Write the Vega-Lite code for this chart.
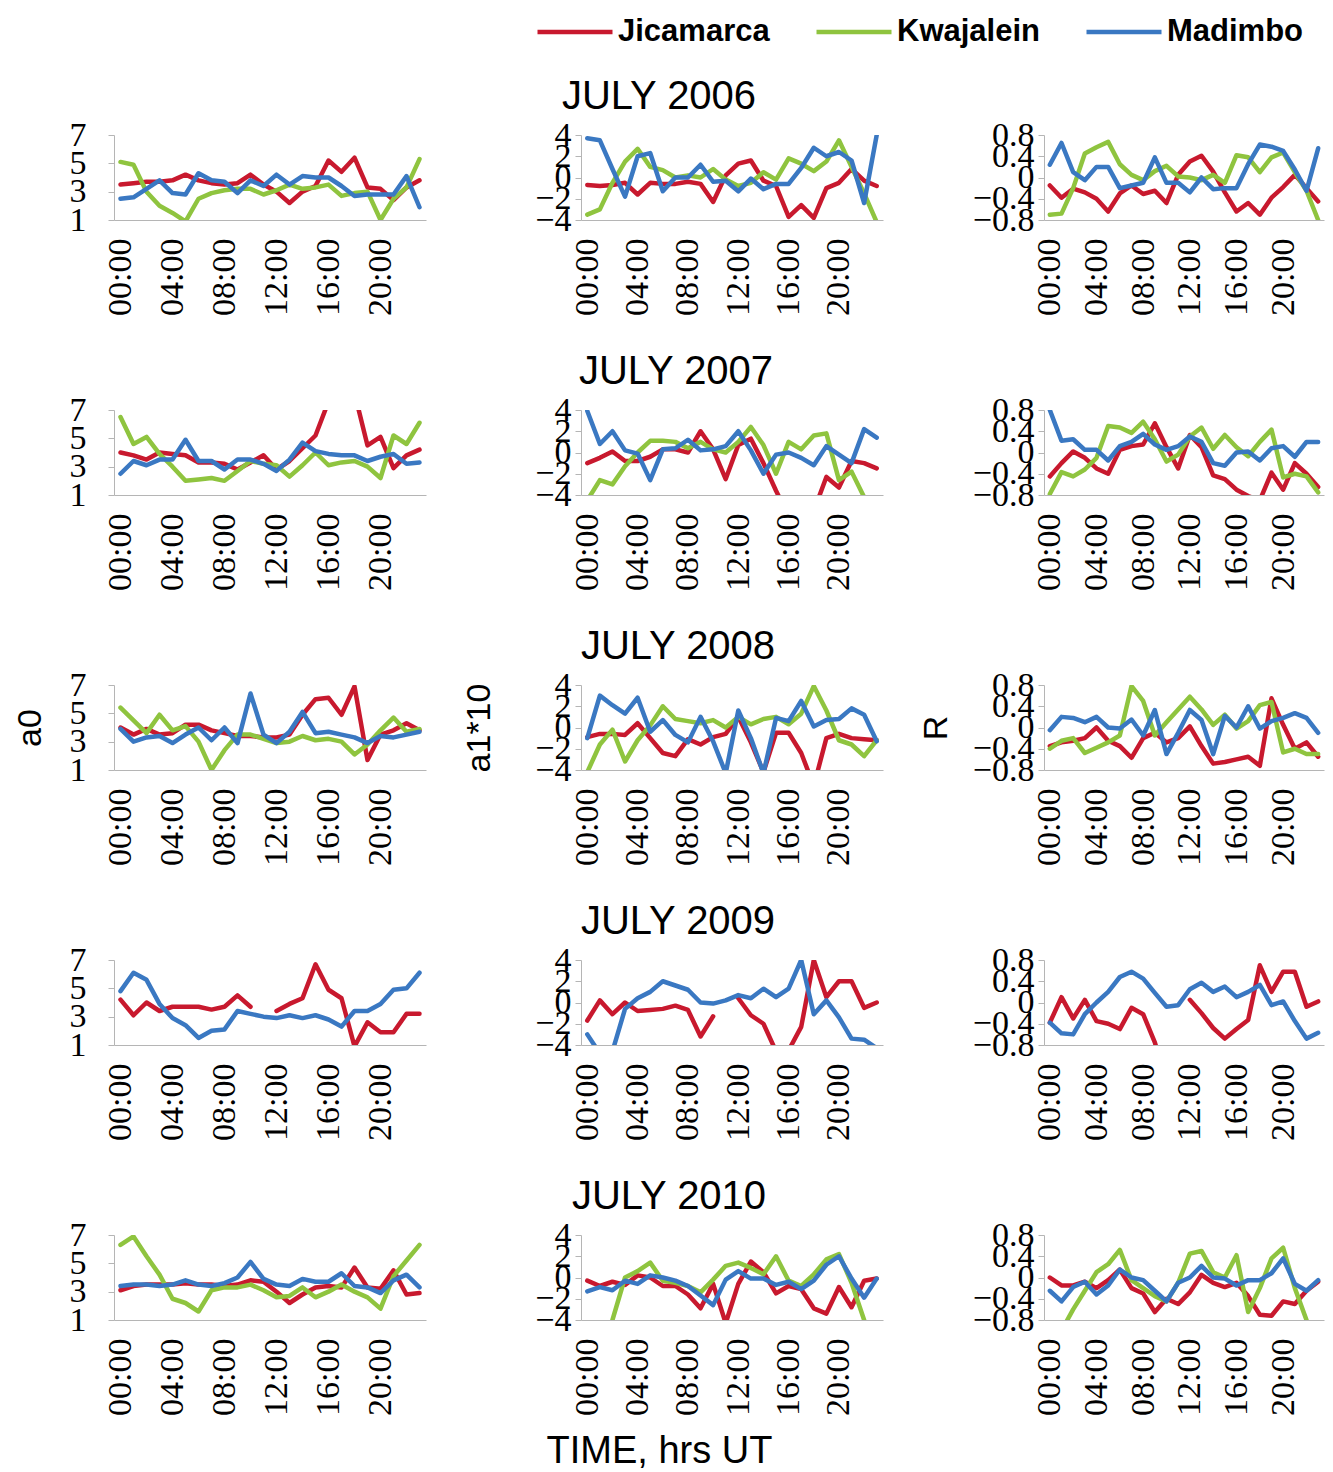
{
"$schema":"https://vega.github.io/schema/vega-lite/v6.json",
"padding":{"left":13,"top":-8,"right":10,"bottom":4},
"background":"white",
"title":{"text":"TIME, hrs UT","orient":"bottom","anchor":"middle","fontSize":38,"offset":18,"dx":-9},
"datasets":{
"a0_6":[
{"s":"J","h":0,"v":3.5},{"s":"J","h":1,"v":3.6},{"s":"J","h":2,"v":3.7},{"s":"J","h":3,"v":3.7},{"s":"J","h":4,"v":3.8},{"s":"J","h":5,"v":4.2},{"s":"J","h":6,"v":3.8},{"s":"J","h":7,"v":3.6},{"s":"J","h":8,"v":3.5},{"s":"J","h":9,"v":3.6},{"s":"J","h":10,"v":4.2},{"s":"J","h":11,"v":3.5},{"s":"J","h":12,"v":3.0},{"s":"J","h":13,"v":2.2},{"s":"J","h":14,"v":3.0},{"s":"J","h":15,"v":3.4},{"s":"J","h":16,"v":5.2},{"s":"J","h":17,"v":4.4},{"s":"J","h":18,"v":5.4},{"s":"J","h":19,"v":3.3},{"s":"J","h":20,"v":3.2},{"s":"J","h":21,"v":2.4},{"s":"J","h":22,"v":3.3},{"s":"J","h":23,"v":3.8},
{"s":"K","h":0,"v":5.1},{"s":"K","h":1,"v":4.9},{"s":"K","h":2,"v":3.0},{"s":"K","h":3,"v":2.0},{"s":"K","h":4,"v":1.5},{"s":"K","h":5,"v":0.9},{"s":"K","h":6,"v":2.5},{"s":"K","h":7,"v":2.9},{"s":"K","h":8,"v":3.1},{"s":"K","h":9,"v":3.2},{"s":"K","h":10,"v":3.2},{"s":"K","h":11,"v":2.8},{"s":"K","h":12,"v":3.1},{"s":"K","h":13,"v":3.5},{"s":"K","h":14,"v":3.2},{"s":"K","h":15,"v":3.3},{"s":"K","h":16,"v":3.5},{"s":"K","h":17,"v":2.7},{"s":"K","h":18,"v":2.9},{"s":"K","h":19,"v":3.0},{"s":"K","h":20,"v":1.0},{"s":"K","h":21,"v":2.5},{"s":"K","h":22,"v":3.3},{"s":"K","h":23,"v":5.3},
{"s":"M","h":0,"v":2.5},{"s":"M","h":1,"v":2.6},{"s":"M","h":2,"v":3.2},{"s":"M","h":3,"v":3.8},{"s":"M","h":4,"v":2.9},{"s":"M","h":5,"v":2.8},{"s":"M","h":6,"v":4.3},{"s":"M","h":7,"v":3.8},{"s":"M","h":8,"v":3.7},{"s":"M","h":9,"v":2.9},{"s":"M","h":10,"v":3.8},{"s":"M","h":11,"v":3.4},{"s":"M","h":12,"v":4.2},{"s":"M","h":13,"v":3.5},{"s":"M","h":14,"v":4.1},{"s":"M","h":15,"v":4.0},{"s":"M","h":16,"v":4.0},{"s":"M","h":17,"v":3.4},{"s":"M","h":18,"v":2.7},{"s":"M","h":19,"v":2.8},{"s":"M","h":20,"v":2.8},{"s":"M","h":21,"v":2.8},{"s":"M","h":22,"v":4.1},{"s":"M","h":23,"v":1.9}
],
"a1_6":[
{"s":"J","h":0,"v":-0.7},{"s":"J","h":1,"v":-0.8},{"s":"J","h":2,"v":-0.7},{"s":"J","h":3,"v":-0.5},{"s":"J","h":4,"v":-1.6},{"s":"J","h":5,"v":-0.5},{"s":"J","h":6,"v":-0.6},{"s":"J","h":7,"v":-0.6},{"s":"J","h":8,"v":-0.4},{"s":"J","h":9,"v":-0.6},{"s":"J","h":10,"v":-2.3},{"s":"J","h":11,"v":0.2},{"s":"J","h":12,"v":1.3},{"s":"J","h":13,"v":1.6},{"s":"J","h":14,"v":-0.3},{"s":"J","h":15,"v":-0.8},{"s":"J","h":16,"v":-3.7},{"s":"J","h":17,"v":-2.6},{"s":"J","h":18,"v":-3.8},{"s":"J","h":19,"v":-1.0},{"s":"J","h":20,"v":-0.5},{"s":"J","h":21,"v":0.8},{"s":"J","h":22,"v":-0.3},{"s":"J","h":23,"v":-0.8},
{"s":"K","h":0,"v":-3.5},{"s":"K","h":1,"v":-3.0},{"s":"K","h":2,"v":-0.5},{"s":"K","h":3,"v":1.5},{"s":"K","h":4,"v":2.7},{"s":"K","h":5,"v":1.0},{"s":"K","h":6,"v":0.7},{"s":"K","h":7,"v":0.0},{"s":"K","h":8,"v":0.2},{"s":"K","h":9,"v":0.0},{"s":"K","h":10,"v":0.8},{"s":"K","h":11,"v":-0.2},{"s":"K","h":12,"v":-0.8},{"s":"K","h":13,"v":-0.5},{"s":"K","h":14,"v":0.5},{"s":"K","h":15,"v":-0.2},{"s":"K","h":16,"v":1.8},{"s":"K","h":17,"v":1.3},{"s":"K","h":18,"v":0.6},{"s":"K","h":19,"v":1.5},{"s":"K","h":20,"v":3.5},{"s":"K","h":21,"v":1.0},{"s":"K","h":22,"v":-1.5},{"s":"K","h":23,"v":-4.2},
{"s":"M","h":0,"v":3.7},{"s":"M","h":1,"v":3.5},{"s":"M","h":2,"v":0.8},{"s":"M","h":3,"v":-1.8},{"s":"M","h":4,"v":2.0},{"s":"M","h":5,"v":2.3},{"s":"M","h":6,"v":-1.3},{"s":"M","h":7,"v":0.0},{"s":"M","h":8,"v":0.0},{"s":"M","h":9,"v":1.2},{"s":"M","h":10,"v":-0.4},{"s":"M","h":11,"v":-0.3},{"s":"M","h":12,"v":-1.3},{"s":"M","h":13,"v":-0.1},{"s":"M","h":14,"v":-1.1},{"s":"M","h":15,"v":-0.6},{"s":"M","h":16,"v":-0.6},{"s":"M","h":17,"v":0.9},{"s":"M","h":18,"v":2.8},{"s":"M","h":19,"v":2.0},{"s":"M","h":20,"v":2.4},{"s":"M","h":21,"v":1.6},{"s":"M","h":22,"v":-2.4},{"s":"M","h":23,"v":4.0}
],
"R_6":[
{"s":"J","h":0,"v":-0.15},{"s":"J","h":1,"v":-0.38},{"s":"J","h":2,"v":-0.21},{"s":"J","h":3,"v":-0.28},{"s":"J","h":4,"v":-0.4},{"s":"J","h":5,"v":-0.64},{"s":"J","h":6,"v":-0.3},{"s":"J","h":7,"v":-0.15},{"s":"J","h":8,"v":-0.31},{"s":"J","h":9,"v":-0.25},{"s":"J","h":10,"v":-0.48},{"s":"J","h":11,"v":0.05},{"s":"J","h":12,"v":0.3},{"s":"J","h":13,"v":0.41},{"s":"J","h":14,"v":0.11},{"s":"J","h":15,"v":-0.28},{"s":"J","h":16,"v":-0.64},{"s":"J","h":17,"v":-0.48},{"s":"J","h":18,"v":-0.7},{"s":"J","h":19,"v":-0.38},{"s":"J","h":20,"v":-0.18},{"s":"J","h":21,"v":0.05},{"s":"J","h":22,"v":-0.2},{"s":"J","h":23,"v":-0.45},
{"s":"K","h":0,"v":-0.7},{"s":"K","h":1,"v":-0.68},{"s":"K","h":2,"v":-0.2},{"s":"K","h":3,"v":0.45},{"s":"K","h":4,"v":0.57},{"s":"K","h":5,"v":0.67},{"s":"K","h":6,"v":0.25},{"s":"K","h":7,"v":0.05},{"s":"K","h":8,"v":-0.05},{"s":"K","h":9,"v":0.12},{"s":"K","h":10,"v":0.22},{"s":"K","h":11,"v":0.02},{"s":"K","h":12,"v":0.0},{"s":"K","h":13,"v":-0.05},{"s":"K","h":14,"v":0.05},{"s":"K","h":15,"v":-0.1},{"s":"K","h":16,"v":0.42},{"s":"K","h":17,"v":0.38},{"s":"K","h":18,"v":0.1},{"s":"K","h":19,"v":0.38},{"s":"K","h":20,"v":0.47},{"s":"K","h":21,"v":0.1},{"s":"K","h":22,"v":-0.25},{"s":"K","h":23,"v":-0.8},
{"s":"M","h":0,"v":0.24},{"s":"M","h":1,"v":0.65},{"s":"M","h":2,"v":0.1},{"s":"M","h":3,"v":-0.05},{"s":"M","h":4,"v":0.2},{"s":"M","h":5,"v":0.2},{"s":"M","h":6,"v":-0.2},{"s":"M","h":7,"v":-0.15},{"s":"M","h":8,"v":-0.1},{"s":"M","h":9,"v":0.38},{"s":"M","h":10,"v":-0.1},{"s":"M","h":11,"v":-0.1},{"s":"M","h":12,"v":-0.28},{"s":"M","h":13,"v":0.0},{"s":"M","h":14,"v":-0.22},{"s":"M","h":15,"v":-0.2},{"s":"M","h":16,"v":-0.2},{"s":"M","h":17,"v":0.25},{"s":"M","h":18,"v":0.62},{"s":"M","h":19,"v":0.58},{"s":"M","h":20,"v":0.5},{"s":"M","h":21,"v":0.15},{"s":"M","h":22,"v":-0.25},{"s":"M","h":23,"v":0.55}
],
"a0_7":[
{"s":"J","h":0,"v":4.0},{"s":"J","h":1,"v":3.8},{"s":"J","h":2,"v":3.5},{"s":"J","h":3,"v":4.0},{"s":"J","h":4,"v":3.9},{"s":"J","h":5,"v":3.8},{"s":"J","h":6,"v":3.3},{"s":"J","h":7,"v":3.3},{"s":"J","h":8,"v":3.2},{"s":"J","h":9,"v":2.8},{"s":"J","h":10,"v":3.3},{"s":"J","h":11,"v":3.8},{"s":"J","h":12,"v":2.8},{"s":"J","h":13,"v":3.4},{"s":"J","h":14,"v":4.3},{"s":"J","h":15,"v":5.2},{"s":"J","h":16,"v":7.6},{"s":"J","h":17,"v":9.0},{"s":"J","h":18,"v":8.2},{"s":"J","h":19,"v":4.5},{"s":"J","h":20,"v":5.1},{"s":"J","h":21,"v":2.9},{"s":"J","h":22,"v":3.8},{"s":"J","h":23,"v":4.2},
{"s":"K","h":0,"v":6.5},{"s":"K","h":1,"v":4.6},{"s":"K","h":2,"v":5.1},{"s":"K","h":3,"v":3.9},{"s":"K","h":4,"v":3.0},{"s":"K","h":5,"v":2.0},{"s":"K","h":6,"v":2.1},{"s":"K","h":7,"v":2.2},{"s":"K","h":8,"v":2.0},{"s":"K","h":9,"v":2.7},{"s":"K","h":10,"v":3.4},{"s":"K","h":11,"v":3.2},{"s":"K","h":12,"v":3.1},{"s":"K","h":13,"v":2.3},{"s":"K","h":14,"v":3.1},{"s":"K","h":15,"v":4.0},{"s":"K","h":16,"v":3.1},{"s":"K","h":17,"v":3.3},{"s":"K","h":18,"v":3.4},{"s":"K","h":19,"v":3.0},{"s":"K","h":20,"v":2.2},{"s":"K","h":21,"v":5.2},{"s":"K","h":22,"v":4.6},{"s":"K","h":23,"v":6.1},
{"s":"M","h":0,"v":2.5},{"s":"M","h":1,"v":3.4},{"s":"M","h":2,"v":3.1},{"s":"M","h":3,"v":3.5},{"s":"M","h":4,"v":3.5},{"s":"M","h":5,"v":4.9},{"s":"M","h":6,"v":3.4},{"s":"M","h":7,"v":3.4},{"s":"M","h":8,"v":2.8},{"s":"M","h":9,"v":3.5},{"s":"M","h":10,"v":3.5},{"s":"M","h":11,"v":3.2},{"s":"M","h":12,"v":2.7},{"s":"M","h":13,"v":3.5},{"s":"M","h":14,"v":4.7},{"s":"M","h":15,"v":4.1},{"s":"M","h":16,"v":3.9},{"s":"M","h":17,"v":3.8},{"s":"M","h":18,"v":3.8},{"s":"M","h":19,"v":3.4},{"s":"M","h":20,"v":3.7},{"s":"M","h":21,"v":3.9},{"s":"M","h":22,"v":3.2},{"s":"M","h":23,"v":3.3}
],
"a1_7":[
{"s":"J","h":0,"v":-1.0},{"s":"J","h":1,"v":-0.5},{"s":"J","h":2,"v":0.1},{"s":"J","h":3,"v":-0.8},{"s":"J","h":4,"v":-0.8},{"s":"J","h":5,"v":-0.4},{"s":"J","h":6,"v":0.3},{"s":"J","h":7,"v":0.3},{"s":"J","h":8,"v":0.0},{"s":"J","h":9,"v":2.0},{"s":"J","h":10,"v":0.3},{"s":"J","h":11,"v":-2.5},{"s":"J","h":12,"v":0.7},{"s":"J","h":13,"v":1.3},{"s":"J","h":14,"v":-1.0},{"s":"J","h":15,"v":-3.6},{"s":"J","h":16,"v":-6.0},{"s":"J","h":17,"v":-6.0},{"s":"J","h":18,"v":-5.5},{"s":"J","h":19,"v":-2.3},{"s":"J","h":20,"v":-3.3},{"s":"J","h":21,"v":-0.8},{"s":"J","h":22,"v":-1.0},{"s":"J","h":23,"v":-1.5},
{"s":"K","h":0,"v":-4.5},{"s":"K","h":1,"v":-2.6},{"s":"K","h":2,"v":-3.0},{"s":"K","h":3,"v":-1.3},{"s":"K","h":4,"v":0.0},{"s":"K","h":5,"v":1.1},{"s":"K","h":6,"v":1.1},{"s":"K","h":7,"v":1.0},{"s":"K","h":8,"v":0.4},{"s":"K","h":9,"v":1.0},{"s":"K","h":10,"v":0.3},{"s":"K","h":11,"v":0.0},{"s":"K","h":12,"v":1.0},{"s":"K","h":13,"v":2.4},{"s":"K","h":14,"v":0.7},{"s":"K","h":15,"v":-2.0},{"s":"K","h":16,"v":1.0},{"s":"K","h":17,"v":0.3},{"s":"K","h":18,"v":1.6},{"s":"K","h":19,"v":1.8},{"s":"K","h":20,"v":-2.6},{"s":"K","h":21,"v":-1.8},{"s":"K","h":22,"v":-4.2},{"s":"K","h":23,"v":-4.5},
{"s":"M","h":0,"v":3.9},{"s":"M","h":1,"v":0.8},{"s":"M","h":2,"v":2.0},{"s":"M","h":3,"v":0.2},{"s":"M","h":4,"v":-0.1},{"s":"M","h":5,"v":-2.6},{"s":"M","h":6,"v":0.3},{"s":"M","h":7,"v":0.4},{"s":"M","h":8,"v":1.2},{"s":"M","h":9,"v":0.2},{"s":"M","h":10,"v":0.3},{"s":"M","h":11,"v":0.6},{"s":"M","h":12,"v":2.0},{"s":"M","h":13,"v":0.2},{"s":"M","h":14,"v":-2.0},{"s":"M","h":15,"v":-0.2},{"s":"M","h":16,"v":0.0},{"s":"M","h":17,"v":-0.5},{"s":"M","h":18,"v":-1.2},{"s":"M","h":19,"v":0.6},{"s":"M","h":20,"v":-0.2},{"s":"M","h":21,"v":-1.0},{"s":"M","h":22,"v":2.2},{"s":"M","h":23,"v":1.4}
],
"R_7":[
{"s":"J","h":0,"v":-0.45},{"s":"J","h":1,"v":-0.2},{"s":"J","h":2,"v":0.02},{"s":"J","h":3,"v":-0.1},{"s":"J","h":4,"v":-0.3},{"s":"J","h":5,"v":-0.4},{"s":"J","h":6,"v":0.05},{"s":"J","h":7,"v":0.12},{"s":"J","h":8,"v":0.15},{"s":"J","h":9,"v":0.55},{"s":"J","h":10,"v":0.1},{"s":"J","h":11,"v":-0.3},{"s":"J","h":12,"v":0.33},{"s":"J","h":13,"v":0.1},{"s":"J","h":14,"v":-0.43},{"s":"J","h":15,"v":-0.5},{"s":"J","h":16,"v":-0.7},{"s":"J","h":17,"v":-0.82},{"s":"J","h":18,"v":-0.9},{"s":"J","h":19,"v":-0.38},{"s":"J","h":20,"v":-0.7},{"s":"J","h":21,"v":-0.2},{"s":"J","h":22,"v":-0.4},{"s":"J","h":23,"v":-0.65},
{"s":"K","h":0,"v":-0.78},{"s":"K","h":1,"v":-0.37},{"s":"K","h":2,"v":-0.45},{"s":"K","h":3,"v":-0.32},{"s":"K","h":4,"v":-0.1},{"s":"K","h":5,"v":0.5},{"s":"K","h":6,"v":0.47},{"s":"K","h":7,"v":0.37},{"s":"K","h":8,"v":0.58},{"s":"K","h":9,"v":0.25},{"s":"K","h":10,"v":-0.17},{"s":"K","h":11,"v":-0.04},{"s":"K","h":12,"v":0.3},{"s":"K","h":13,"v":0.47},{"s":"K","h":14,"v":0.07},{"s":"K","h":15,"v":0.33},{"s":"K","h":16,"v":0.1},{"s":"K","h":17,"v":-0.07},{"s":"K","h":18,"v":0.2},{"s":"K","h":19,"v":0.43},{"s":"K","h":20,"v":-0.47},{"s":"K","h":21,"v":-0.4},{"s":"K","h":22,"v":-0.45},{"s":"K","h":23,"v":-0.75},
{"s":"M","h":0,"v":0.8},{"s":"M","h":1,"v":0.22},{"s":"M","h":2,"v":0.25},{"s":"M","h":3,"v":0.05},{"s":"M","h":4,"v":0.05},{"s":"M","h":5,"v":-0.15},{"s":"M","h":6,"v":0.12},{"s":"M","h":7,"v":0.2},{"s":"M","h":8,"v":0.35},{"s":"M","h":9,"v":0.15},{"s":"M","h":10,"v":0.05},{"s":"M","h":11,"v":0.12},{"s":"M","h":12,"v":0.3},{"s":"M","h":13,"v":0.2},{"s":"M","h":14,"v":-0.2},{"s":"M","h":15,"v":-0.25},{"s":"M","h":16,"v":0.0},{"s":"M","h":17,"v":0.02},{"s":"M","h":18,"v":-0.15},{"s":"M","h":19,"v":0.08},{"s":"M","h":20,"v":0.12},{"s":"M","h":21,"v":-0.08},{"s":"M","h":22,"v":0.2},{"s":"M","h":23,"v":0.2}
],
"a0_8":[
{"s":"J","h":0,"v":4.0},{"s":"J","h":1,"v":3.5},{"s":"J","h":2,"v":3.9},{"s":"J","h":3,"v":3.5},{"s":"J","h":4,"v":3.6},{"s":"J","h":5,"v":4.2},{"s":"J","h":6,"v":4.2},{"s":"J","h":7,"v":3.8},{"s":"J","h":8,"v":3.6},{"s":"J","h":9,"v":3.4},{"s":"J","h":10,"v":3.4},{"s":"J","h":11,"v":3.3},{"s":"J","h":12,"v":3.3},{"s":"J","h":13,"v":3.5},{"s":"J","h":14,"v":4.9},{"s":"J","h":15,"v":6.0},{"s":"J","h":16,"v":6.1},{"s":"J","h":17,"v":4.9},{"s":"J","h":18,"v":6.9},{"s":"J","h":19,"v":1.7},{"s":"J","h":20,"v":3.5},{"s":"J","h":21,"v":3.8},{"s":"J","h":22,"v":4.3},{"s":"J","h":23,"v":3.8},
{"s":"K","h":0,"v":5.4},{"s":"K","h":1,"v":4.5},{"s":"K","h":2,"v":3.6},{"s":"K","h":3,"v":4.9},{"s":"K","h":4,"v":3.8},{"s":"K","h":5,"v":4.1},{"s":"K","h":6,"v":3.0},{"s":"K","h":7,"v":1.0},{"s":"K","h":8,"v":2.4},{"s":"K","h":9,"v":3.5},{"s":"K","h":10,"v":3.5},{"s":"K","h":11,"v":3.2},{"s":"K","h":12,"v":2.9},{"s":"K","h":13,"v":3.0},{"s":"K","h":14,"v":3.4},{"s":"K","h":15,"v":3.1},{"s":"K","h":16,"v":3.2},{"s":"K","h":17,"v":3.0},{"s":"K","h":18,"v":2.1},{"s":"K","h":19,"v":2.8},{"s":"K","h":20,"v":3.8},{"s":"K","h":21,"v":4.7},{"s":"K","h":22,"v":3.7},{"s":"K","h":23,"v":3.9},
{"s":"M","h":0,"v":3.9},{"s":"M","h":1,"v":3.0},{"s":"M","h":2,"v":3.3},{"s":"M","h":3,"v":3.4},{"s":"M","h":4,"v":2.9},{"s":"M","h":5,"v":3.5},{"s":"M","h":6,"v":4.0},{"s":"M","h":7,"v":3.1},{"s":"M","h":8,"v":4.0},{"s":"M","h":9,"v":2.9},{"s":"M","h":10,"v":6.4},{"s":"M","h":11,"v":3.5},{"s":"M","h":12,"v":2.9},{"s":"M","h":13,"v":3.7},{"s":"M","h":14,"v":5.1},{"s":"M","h":15,"v":3.6},{"s":"M","h":16,"v":3.7},{"s":"M","h":17,"v":3.5},{"s":"M","h":18,"v":3.3},{"s":"M","h":19,"v":2.9},{"s":"M","h":20,"v":3.4},{"s":"M","h":21,"v":3.3},{"s":"M","h":22,"v":3.5},{"s":"M","h":23,"v":3.7}
],
"a1_8":[
{"s":"J","h":0,"v":-0.9},{"s":"J","h":1,"v":-0.6},{"s":"J","h":2,"v":-0.6},{"s":"J","h":3,"v":-0.7},{"s":"J","h":4,"v":0.4},{"s":"J","h":5,"v":-1.0},{"s":"J","h":6,"v":-2.4},{"s":"J","h":7,"v":-2.7},{"s":"J","h":8,"v":-1.1},{"s":"J","h":9,"v":-1.6},{"s":"J","h":10,"v":-0.9},{"s":"J","h":11,"v":-0.6},{"s":"J","h":12,"v":1.0},{"s":"J","h":13,"v":-1.4},{"s":"J","h":14,"v":-4.2},{"s":"J","h":15,"v":-0.5},{"s":"J","h":16,"v":-0.5},{"s":"J","h":17,"v":-2.4},{"s":"J","h":18,"v":-5.5},{"s":"J","h":19,"v":-1.0},{"s":"J","h":20,"v":-0.6},{"s":"J","h":21,"v":-1.0},{"s":"J","h":22,"v":-1.1},{"s":"J","h":23,"v":-1.2},
{"s":"K","h":0,"v":-4.2},{"s":"K","h":1,"v":-1.6},{"s":"K","h":2,"v":-0.2},{"s":"K","h":3,"v":-3.2},{"s":"K","h":4,"v":-1.2},{"s":"K","h":5,"v":0.2},{"s":"K","h":6,"v":2.0},{"s":"K","h":7,"v":0.8},{"s":"K","h":8,"v":0.6},{"s":"K","h":9,"v":0.4},{"s":"K","h":10,"v":0.7},{"s":"K","h":11,"v":0.0},{"s":"K","h":12,"v":1.0},{"s":"K","h":13,"v":0.3},{"s":"K","h":14,"v":0.8},{"s":"K","h":15,"v":1.0},{"s":"K","h":16,"v":0.3},{"s":"K","h":17,"v":1.3},{"s":"K","h":18,"v":3.9},{"s":"K","h":19,"v":1.6},{"s":"K","h":20,"v":-1.2},{"s":"K","h":21,"v":-1.6},{"s":"K","h":22,"v":-2.7},{"s":"K","h":23,"v":-1.2},
{"s":"M","h":0,"v":-1.0},{"s":"M","h":1,"v":3.0},{"s":"M","h":2,"v":2.1},{"s":"M","h":3,"v":1.3},{"s":"M","h":4,"v":2.8},{"s":"M","h":5,"v":-0.4},{"s":"M","h":6,"v":0.7},{"s":"M","h":7,"v":-0.7},{"s":"M","h":8,"v":-1.4},{"s":"M","h":9,"v":1.0},{"s":"M","h":10,"v":-1.3},{"s":"M","h":11,"v":-4.3},{"s":"M","h":12,"v":1.6},{"s":"M","h":13,"v":-1.0},{"s":"M","h":14,"v":-4.3},{"s":"M","h":15,"v":0.9},{"s":"M","h":16,"v":0.6},{"s":"M","h":17,"v":2.5},{"s":"M","h":18,"v":0.1},{"s":"M","h":19,"v":0.7},{"s":"M","h":20,"v":0.8},{"s":"M","h":21,"v":1.8},{"s":"M","h":22,"v":1.2},{"s":"M","h":23,"v":-1.3}
],
"R_8":[
{"s":"J","h":0,"v":-0.35},{"s":"J","h":1,"v":-0.28},{"s":"J","h":2,"v":-0.25},{"s":"J","h":3,"v":-0.2},{"s":"J","h":4,"v":0.0},{"s":"J","h":5,"v":-0.25},{"s":"J","h":6,"v":-0.35},{"s":"J","h":7,"v":-0.57},{"s":"J","h":8,"v":-0.2},{"s":"J","h":9,"v":-0.1},{"s":"J","h":10,"v":-0.28},{"s":"J","h":11,"v":-0.2},{"s":"J","h":12,"v":0.02},{"s":"J","h":13,"v":-0.35},{"s":"J","h":14,"v":-0.68},{"s":"J","h":15,"v":-0.65},{"s":"J","h":16,"v":-0.6},{"s":"J","h":17,"v":-0.55},{"s":"J","h":18,"v":-0.72},{"s":"J","h":19,"v":0.55},{"s":"J","h":20,"v":0.05},{"s":"J","h":21,"v":-0.4},{"s":"J","h":22,"v":-0.28},{"s":"J","h":23,"v":-0.55},
{"s":"K","h":0,"v":-0.4},{"s":"K","h":1,"v":-0.25},{"s":"K","h":2,"v":-0.2},{"s":"K","h":3,"v":-0.48},{"s":"K","h":4,"v":-0.38},{"s":"K","h":5,"v":-0.28},{"s":"K","h":6,"v":-0.15},{"s":"K","h":7,"v":0.78},{"s":"K","h":8,"v":0.5},{"s":"K","h":9,"v":-0.15},{"s":"K","h":10,"v":0.1},{"s":"K","h":11,"v":0.34},{"s":"K","h":12,"v":0.58},{"s":"K","h":13,"v":0.34},{"s":"K","h":14,"v":0.05},{"s":"K","h":15,"v":0.24},{"s":"K","h":16,"v":-0.02},{"s":"K","h":17,"v":0.12},{"s":"K","h":18,"v":0.42},{"s":"K","h":19,"v":0.48},{"s":"K","h":20,"v":-0.47},{"s":"K","h":21,"v":-0.4},{"s":"K","h":22,"v":-0.5},{"s":"K","h":23,"v":-0.5},
{"s":"M","h":0,"v":-0.05},{"s":"M","h":1,"v":0.2},{"s":"M","h":2,"v":0.18},{"s":"M","h":3,"v":0.1},{"s":"M","h":4,"v":0.2},{"s":"M","h":5,"v":0.0},{"s":"M","h":6,"v":-0.02},{"s":"M","h":7,"v":0.15},{"s":"M","h":8,"v":-0.15},{"s":"M","h":9,"v":0.33},{"s":"M","h":10,"v":-0.5},{"s":"M","h":11,"v":-0.1},{"s":"M","h":12,"v":0.33},{"s":"M","h":13,"v":0.14},{"s":"M","h":14,"v":-0.5},{"s":"M","h":15,"v":0.22},{"s":"M","h":16,"v":0.0},{"s":"M","h":17,"v":0.4},{"s":"M","h":18,"v":-0.02},{"s":"M","h":19,"v":0.12},{"s":"M","h":20,"v":0.18},{"s":"M","h":21,"v":0.27},{"s":"M","h":22,"v":0.18},{"s":"M","h":23,"v":-0.1}
],
"a0_9":[
{"s":"J","h":0,"v":4.2},{"s":"J","h":1,"v":3.1},{"s":"J","h":2,"v":4.0},{"s":"J","h":3,"v":3.4},{"s":"J","h":4,"v":3.7},{"s":"J","h":5,"v":3.7},{"s":"J","h":6,"v":3.7},{"s":"J","h":7,"v":3.5},{"s":"J","h":8,"v":3.7},{"s":"J","h":9,"v":4.5},{"s":"J","h":10,"v":3.7},{"s":"J","h":11,"v":null},{"s":"J","h":12,"v":3.4},{"s":"J","h":13,"v":3.9},{"s":"J","h":14,"v":4.3},{"s":"J","h":15,"v":6.7},{"s":"J","h":16,"v":4.9},{"s":"J","h":17,"v":4.3},{"s":"J","h":18,"v":0.9},{"s":"J","h":19,"v":2.6},{"s":"J","h":20,"v":1.9},{"s":"J","h":21,"v":1.9},{"s":"J","h":22,"v":3.2},{"s":"J","h":23,"v":3.2},
{"s":"M","h":0,"v":4.8},{"s":"M","h":1,"v":6.1},{"s":"M","h":2,"v":5.6},{"s":"M","h":3,"v":3.9},{"s":"M","h":4,"v":2.9},{"s":"M","h":5,"v":2.4},{"s":"M","h":6,"v":1.5},{"s":"M","h":7,"v":2.0},{"s":"M","h":8,"v":2.1},{"s":"M","h":9,"v":3.4},{"s":"M","h":10,"v":3.2},{"s":"M","h":11,"v":3.0},{"s":"M","h":12,"v":2.9},{"s":"M","h":13,"v":3.1},{"s":"M","h":14,"v":2.9},{"s":"M","h":15,"v":3.1},{"s":"M","h":16,"v":2.8},{"s":"M","h":17,"v":2.3},{"s":"M","h":18,"v":3.4},{"s":"M","h":19,"v":3.4},{"s":"M","h":20,"v":3.9},{"s":"M","h":21,"v":4.9},{"s":"M","h":22,"v":5.0},{"s":"M","h":23,"v":6.1}
],
"a1_9":[
{"s":"J","h":0,"v":-1.7},{"s":"J","h":1,"v":0.2},{"s":"J","h":2,"v":-1.1},{"s":"J","h":3,"v":0.0},{"s":"J","h":4,"v":-0.8},{"s":"J","h":5,"v":-0.7},{"s":"J","h":6,"v":-0.6},{"s":"J","h":7,"v":-0.3},{"s":"J","h":8,"v":-0.7},{"s":"J","h":9,"v":-3.2},{"s":"J","h":10,"v":-1.3},{"s":"J","h":11,"v":null},{"s":"J","h":12,"v":0.4},{"s":"J","h":13,"v":-1.2},{"s":"J","h":14,"v":-2.0},{"s":"J","h":15,"v":-4.6},{"s":"J","h":16,"v":-4.5},{"s":"J","h":17,"v":-2.3},{"s":"J","h":18,"v":4.0},{"s":"J","h":19,"v":0.5},{"s":"J","h":20,"v":2.0},{"s":"J","h":21,"v":2.0},{"s":"J","h":22,"v":-0.5},{"s":"J","h":23,"v":0.0},
{"s":"M","h":0,"v":-3.0},{"s":"M","h":1,"v":-4.8},{"s":"M","h":2,"v":-4.6},{"s":"M","h":3,"v":-0.6},{"s":"M","h":4,"v":0.4},{"s":"M","h":5,"v":1.0},{"s":"M","h":6,"v":2.0},{"s":"M","h":7,"v":1.6},{"s":"M","h":8,"v":1.2},{"s":"M","h":9,"v":0.0},{"s":"M","h":10,"v":-0.1},{"s":"M","h":11,"v":0.2},{"s":"M","h":12,"v":0.7},{"s":"M","h":13,"v":0.4},{"s":"M","h":14,"v":1.3},{"s":"M","h":15,"v":0.5},{"s":"M","h":16,"v":1.3},{"s":"M","h":17,"v":4.0},{"s":"M","h":18,"v":-1.1},{"s":"M","h":19,"v":0.2},{"s":"M","h":20,"v":-1.4},{"s":"M","h":21,"v":-3.4},{"s":"M","h":22,"v":-3.5},{"s":"M","h":23,"v":-4.3}
],
"R_9":[
{"s":"J","h":0,"v":-0.38},{"s":"J","h":1,"v":0.1},{"s":"J","h":2,"v":-0.3},{"s":"J","h":3,"v":0.05},{"s":"J","h":4,"v":-0.35},{"s":"J","h":5,"v":-0.4},{"s":"J","h":6,"v":-0.5},{"s":"J","h":7,"v":-0.1},{"s":"J","h":8,"v":-0.22},{"s":"J","h":9,"v":-0.75},{"s":"J","h":10,"v":-1.5},{"s":"J","h":11,"v":null},{"s":"J","h":12,"v":0.05},{"s":"J","h":13,"v":-0.2},{"s":"J","h":14,"v":-0.48},{"s":"J","h":15,"v":-0.68},{"s":"J","h":16,"v":-0.5},{"s":"J","h":17,"v":-0.33},{"s":"J","h":18,"v":0.7},{"s":"J","h":19,"v":0.2},{"s":"J","h":20,"v":0.58},{"s":"J","h":21,"v":0.58},{"s":"J","h":22,"v":-0.08},{"s":"J","h":23,"v":0.02},
{"s":"M","h":0,"v":-0.38},{"s":"M","h":1,"v":-0.58},{"s":"M","h":2,"v":-0.6},{"s":"M","h":3,"v":-0.22},{"s":"M","h":4,"v":0.0},{"s":"M","h":5,"v":0.2},{"s":"M","h":6,"v":0.48},{"s":"M","h":7,"v":0.58},{"s":"M","h":8,"v":0.45},{"s":"M","h":9,"v":0.18},{"s":"M","h":10,"v":-0.08},{"s":"M","h":11,"v":-0.05},{"s":"M","h":12,"v":0.25},{"s":"M","h":13,"v":0.37},{"s":"M","h":14,"v":0.2},{"s":"M","h":15,"v":0.3},{"s":"M","h":16,"v":0.1},{"s":"M","h":17,"v":0.2},{"s":"M","h":18,"v":0.33},{"s":"M","h":19,"v":-0.05},{"s":"M","h":20,"v":0.02},{"s":"M","h":21,"v":-0.35},{"s":"M","h":22,"v":-0.68},{"s":"M","h":23,"v":-0.57}
],
"a0_10":[
{"s":"J","h":0,"v":3.1},{"s":"J","h":1,"v":3.4},{"s":"J","h":2,"v":3.5},{"s":"J","h":3,"v":3.5},{"s":"J","h":4,"v":3.5},{"s":"J","h":5,"v":3.6},{"s":"J","h":6,"v":3.5},{"s":"J","h":7,"v":3.5},{"s":"J","h":8,"v":3.4},{"s":"J","h":9,"v":3.5},{"s":"J","h":10,"v":3.8},{"s":"J","h":11,"v":3.7},{"s":"J","h":12,"v":3.0},{"s":"J","h":13,"v":2.2},{"s":"J","h":14,"v":2.8},{"s":"J","h":15,"v":3.3},{"s":"J","h":16,"v":3.4},{"s":"J","h":17,"v":3.3},{"s":"J","h":18,"v":4.7},{"s":"J","h":19,"v":3.3},{"s":"J","h":20,"v":3.2},{"s":"J","h":21,"v":4.5},{"s":"J","h":22,"v":2.8},{"s":"J","h":23,"v":2.9},
{"s":"K","h":0,"v":6.3},{"s":"K","h":1,"v":6.9},{"s":"K","h":2,"v":5.5},{"s":"K","h":3,"v":4.2},{"s":"K","h":4,"v":2.5},{"s":"K","h":5,"v":2.2},{"s":"K","h":6,"v":1.6},{"s":"K","h":7,"v":3.1},{"s":"K","h":8,"v":3.3},{"s":"K","h":9,"v":3.3},{"s":"K","h":10,"v":3.5},{"s":"K","h":11,"v":3.1},{"s":"K","h":12,"v":2.6},{"s":"K","h":13,"v":2.7},{"s":"K","h":14,"v":3.3},{"s":"K","h":15,"v":2.6},{"s":"K","h":16,"v":3.0},{"s":"K","h":17,"v":3.5},{"s":"K","h":18,"v":3.0},{"s":"K","h":19,"v":2.6},{"s":"K","h":20,"v":1.8},{"s":"K","h":21,"v":4.1},{"s":"K","h":22,"v":5.2},{"s":"K","h":23,"v":6.3},
{"s":"M","h":0,"v":3.4},{"s":"M","h":1,"v":3.5},{"s":"M","h":2,"v":3.5},{"s":"M","h":3,"v":3.4},{"s":"M","h":4,"v":3.5},{"s":"M","h":5,"v":3.8},{"s":"M","h":6,"v":3.5},{"s":"M","h":7,"v":3.4},{"s":"M","h":8,"v":3.6},{"s":"M","h":9,"v":4.0},{"s":"M","h":10,"v":5.1},{"s":"M","h":11,"v":3.9},{"s":"M","h":12,"v":3.5},{"s":"M","h":13,"v":3.4},{"s":"M","h":14,"v":3.9},{"s":"M","h":15,"v":3.7},{"s":"M","h":16,"v":3.7},{"s":"M","h":17,"v":4.3},{"s":"M","h":18,"v":3.4},{"s":"M","h":19,"v":3.3},{"s":"M","h":20,"v":2.9},{"s":"M","h":21,"v":3.8},{"s":"M","h":22,"v":4.2},{"s":"M","h":23,"v":3.3}
],
"a1_10":[
{"s":"J","h":0,"v":-0.3},{"s":"J","h":1,"v":-0.8},{"s":"J","h":2,"v":-0.4},{"s":"J","h":3,"v":-0.7},{"s":"J","h":4,"v":0.2},{"s":"J","h":5,"v":0.0},{"s":"J","h":6,"v":-0.8},{"s":"J","h":7,"v":-0.8},{"s":"J","h":8,"v":-1.6},{"s":"J","h":9,"v":-2.9},{"s":"J","h":10,"v":-0.6},{"s":"J","h":11,"v":-4.3},{"s":"J","h":12,"v":-0.6},{"s":"J","h":13,"v":1.5},{"s":"J","h":14,"v":0.5},{"s":"J","h":15,"v":-1.5},{"s":"J","h":16,"v":-0.8},{"s":"J","h":17,"v":-1.1},{"s":"J","h":18,"v":-2.9},{"s":"J","h":19,"v":-3.4},{"s":"J","h":20,"v":-0.9},{"s":"J","h":21,"v":-2.8},{"s":"J","h":22,"v":-0.3},{"s":"J","h":23,"v":-0.1},
{"s":"K","h":2,"v":-4.0},{"s":"K","h":3,"v":0.0},{"s":"K","h":4,"v":0.6},{"s":"K","h":5,"v":1.4},{"s":"K","h":6,"v":-0.3},{"s":"K","h":7,"v":-0.5},{"s":"K","h":8,"v":-0.8},{"s":"K","h":9,"v":-1.4},{"s":"K","h":10,"v":-0.2},{"s":"K","h":11,"v":1.1},{"s":"K","h":12,"v":1.4},{"s":"K","h":13,"v":0.9},{"s":"K","h":14,"v":0.3},{"s":"K","h":15,"v":2.0},{"s":"K","h":16,"v":-0.3},{"s":"K","h":17,"v":-0.8},{"s":"K","h":18,"v":0.3},{"s":"K","h":19,"v":1.7},{"s":"K","h":20,"v":2.2},{"s":"K","h":21,"v":-0.5},{"s":"K","h":22,"v":-4.0},
{"s":"M","h":0,"v":-1.3},{"s":"M","h":1,"v":-0.9},{"s":"M","h":2,"v":-1.2},{"s":"M","h":3,"v":-0.3},{"s":"M","h":4,"v":-0.6},{"s":"M","h":5,"v":0.2},{"s":"M","h":6,"v":0.0},{"s":"M","h":7,"v":-0.3},{"s":"M","h":8,"v":-0.8},{"s":"M","h":9,"v":-1.7},{"s":"M","h":10,"v":-2.6},{"s":"M","h":11,"v":-0.2},{"s":"M","h":12,"v":0.6},{"s":"M","h":13,"v":-0.1},{"s":"M","h":14,"v":-0.1},{"s":"M","h":15,"v":-0.7},{"s":"M","h":16,"v":-0.4},{"s":"M","h":17,"v":-1.1},{"s":"M","h":18,"v":-0.3},{"s":"M","h":19,"v":1.2},{"s":"M","h":20,"v":2.0},{"s":"M","h":21,"v":-0.1},{"s":"M","h":22,"v":-1.9},{"s":"M","h":23,"v":-0.1}
],
"R_10":[
{"s":"J","h":0,"v":0.0},{"s":"J","h":1,"v":-0.15},{"s":"J","h":2,"v":-0.15},{"s":"J","h":3,"v":-0.08},{"s":"J","h":4,"v":-0.2},{"s":"J","h":5,"v":-0.05},{"s":"J","h":6,"v":0.15},{"s":"J","h":7,"v":-0.2},{"s":"J","h":8,"v":-0.3},{"s":"J","h":9,"v":-0.65},{"s":"J","h":10,"v":-0.4},{"s":"J","h":11,"v":-0.5},{"s":"J","h":12,"v":-0.28},{"s":"J","h":13,"v":0.05},{"s":"J","h":14,"v":-0.1},{"s":"J","h":15,"v":-0.18},{"s":"J","h":16,"v":-0.1},{"s":"J","h":17,"v":-0.35},{"s":"J","h":18,"v":-0.7},{"s":"J","h":19,"v":-0.72},{"s":"J","h":20,"v":-0.45},{"s":"J","h":21,"v":-0.5},{"s":"J","h":22,"v":-0.25},{"s":"J","h":23,"v":-0.08},
{"s":"K","h":1,"v":-1.0},{"s":"K","h":2,"v":-0.6},{"s":"K","h":3,"v":-0.25},{"s":"K","h":4,"v":0.1},{"s":"K","h":5,"v":0.25},{"s":"K","h":6,"v":0.52},{"s":"K","h":7,"v":-0.05},{"s":"K","h":8,"v":-0.2},{"s":"K","h":9,"v":-0.35},{"s":"K","h":10,"v":-0.45},{"s":"K","h":11,"v":-0.1},{"s":"K","h":12,"v":0.45},{"s":"K","h":13,"v":0.5},{"s":"K","h":14,"v":0.1},{"s":"K","h":15,"v":0.0},{"s":"K","h":16,"v":0.42},{"s":"K","h":17,"v":-0.65},{"s":"K","h":18,"v":-0.2},{"s":"K","h":19,"v":0.36},{"s":"K","h":20,"v":0.56},{"s":"K","h":21,"v":-0.2},{"s":"K","h":22,"v":-0.8},
{"s":"M","h":0,"v":-0.25},{"s":"M","h":1,"v":-0.45},{"s":"M","h":2,"v":-0.18},{"s":"M","h":3,"v":-0.08},{"s":"M","h":4,"v":-0.32},{"s":"M","h":5,"v":-0.15},{"s":"M","h":6,"v":0.15},{"s":"M","h":7,"v":0.0},{"s":"M","h":8,"v":-0.05},{"s":"M","h":9,"v":-0.25},{"s":"M","h":10,"v":-0.45},{"s":"M","h":11,"v":-0.1},{"s":"M","h":12,"v":0.0},{"s":"M","h":13,"v":0.22},{"s":"M","h":14,"v":0.0},{"s":"M","h":15,"v":-0.02},{"s":"M","h":16,"v":-0.15},{"s":"M","h":17,"v":-0.05},{"s":"M","h":18,"v":-0.05},{"s":"M","h":19,"v":0.08},{"s":"M","h":20,"v":0.36},{"s":"M","h":21,"v":-0.12},{"s":"M","h":22,"v":-0.25},{"s":"M","h":23,"v":-0.05}
]
},
"columns":3,
"spacing":{"row":36,"column":36},
"concat":[
{"data":{"name":"a0_6"},"width":312,"height":85,"mark":{"type":"line","clip":true},"encoding":{"x":{"field":"h","type":"quantitative","scale":{"domain":[-0.5,23.5],"nice":false,"zero":false},"axis":{"values":[0,4,8,12,16,20],"labelExpr":"(datum.value<10?'0':'')+datum.value+':00'","title":null}},"y":{"field":"v","type":"quantitative","scale":{"domain":[1,7],"nice":false,"zero":false},"axis":{"values":[1,3,5,7],"title":null,"labelPadding":22}},"color":{"field":"s","type":"nominal","scale":{"domain":["J","K","M"],"range":["#c8192e","#8fc43f","#3a78c2"]},"legend":{"title":null,"orient":"none","legendX":421,"legendY":-143,"direction":"horizontal","labelExpr":"datum.label=='J'?'Jicamarca':(datum.label=='K'?'Kwajalein':'Madimbo')"}}}},
{"data":{"name":"a1_6"},"width":302,"height":85,"title":{"text":"JULY 2006","dx":-73},"mark":{"type":"line","clip":true},"encoding":{"x":{"field":"h","type":"quantitative","scale":{"domain":[-0.5,23.5],"nice":false,"zero":false},"axis":{"values":[0,4,8,12,16,20],"labelExpr":"(datum.value<10?'0':'')+datum.value+':00'","title":null}},"y":{"field":"v","type":"quantitative","scale":{"domain":[-4,4],"nice":false,"zero":false},"axis":{"values":[-4,-2,0,2,4],"title":null,"labelPadding":4}},"color":{"field":"s","type":"nominal","scale":{"domain":["J","K","M"],"range":["#c8192e","#8fc43f","#3a78c2"]}}}},
{"data":{"name":"R_6"},"width":280,"height":85,"mark":{"type":"line","clip":true},"encoding":{"x":{"field":"h","type":"quantitative","scale":{"domain":[-0.5,23.5],"nice":false,"zero":false},"axis":{"values":[0,4,8,12,16,20],"labelExpr":"(datum.value<10?'0':'')+datum.value+':00'","title":null}},"y":{"field":"v","type":"quantitative","scale":{"domain":[-0.8,0.8],"nice":false,"zero":false},"axis":{"values":[-0.8,-0.4,0,0.4,0.8],"format":"~g","title":null,"labelPadding":4}},"color":{"field":"s","type":"nominal","scale":{"domain":["J","K","M"],"range":["#c8192e","#8fc43f","#3a78c2"]}}}},
{"data":{"name":"a0_7"},"width":312,"height":85,"mark":{"type":"line","clip":true},"encoding":{"x":{"field":"h","type":"quantitative","scale":{"domain":[-0.5,23.5],"nice":false,"zero":false},"axis":{"values":[0,4,8,12,16,20],"labelExpr":"(datum.value<10?'0':'')+datum.value+':00'","title":null}},"y":{"field":"v","type":"quantitative","scale":{"domain":[1,7],"nice":false,"zero":false},"axis":{"values":[1,3,5,7],"title":null,"labelPadding":22}},"color":{"field":"s","type":"nominal","scale":{"domain":["J","K","M"],"range":["#c8192e","#8fc43f","#3a78c2"]}}}},
{"data":{"name":"a1_7"},"width":302,"height":85,"title":{"text":"JULY 2007","dx":-56},"mark":{"type":"line","clip":true},"encoding":{"x":{"field":"h","type":"quantitative","scale":{"domain":[-0.5,23.5],"nice":false,"zero":false},"axis":{"values":[0,4,8,12,16,20],"labelExpr":"(datum.value<10?'0':'')+datum.value+':00'","title":null}},"y":{"field":"v","type":"quantitative","scale":{"domain":[-4,4],"nice":false,"zero":false},"axis":{"values":[-4,-2,0,2,4],"title":null,"labelPadding":4}},"color":{"field":"s","type":"nominal","scale":{"domain":["J","K","M"],"range":["#c8192e","#8fc43f","#3a78c2"]}}}},
{"data":{"name":"R_7"},"width":280,"height":85,"mark":{"type":"line","clip":true},"encoding":{"x":{"field":"h","type":"quantitative","scale":{"domain":[-0.5,23.5],"nice":false,"zero":false},"axis":{"values":[0,4,8,12,16,20],"labelExpr":"(datum.value<10?'0':'')+datum.value+':00'","title":null}},"y":{"field":"v","type":"quantitative","scale":{"domain":[-0.8,0.8],"nice":false,"zero":false},"axis":{"values":[-0.8,-0.4,0,0.4,0.8],"format":"~g","title":null,"labelPadding":4}},"color":{"field":"s","type":"nominal","scale":{"domain":["J","K","M"],"range":["#c8192e","#8fc43f","#3a78c2"]}}}},
{"data":{"name":"a0_8"},"width":312,"height":85,"mark":{"type":"line","clip":true},"encoding":{"x":{"field":"h","type":"quantitative","scale":{"domain":[-0.5,23.5],"nice":false,"zero":false},"axis":{"values":[0,4,8,12,16,20],"labelExpr":"(datum.value<10?'0':'')+datum.value+':00'","title":null}},"y":{"field":"v","type":"quantitative","scale":{"domain":[1,7],"nice":false,"zero":false},"axis":{"values":[1,3,5,7],"title":"a0","titlePadding":22,"labelPadding":22}},"color":{"field":"s","type":"nominal","scale":{"domain":["J","K","M"],"range":["#c8192e","#8fc43f","#3a78c2"]}}}},
{"data":{"name":"a1_8"},"width":302,"height":85,"title":{"text":"JULY 2008","dx":-54},"mark":{"type":"line","clip":true},"encoding":{"x":{"field":"h","type":"quantitative","scale":{"domain":[-0.5,23.5],"nice":false,"zero":false},"axis":{"values":[0,4,8,12,16,20],"labelExpr":"(datum.value<10?'0':'')+datum.value+':00'","title":null}},"y":{"field":"v","type":"quantitative","scale":{"domain":[-4,4],"nice":false,"zero":false},"axis":{"values":[-4,-2,0,2,4],"title":"a1*10","titlePadding":38,"labelPadding":4}},"color":{"field":"s","type":"nominal","scale":{"domain":["J","K","M"],"range":["#c8192e","#8fc43f","#3a78c2"]}}}},
{"data":{"name":"R_8"},"width":280,"height":85,"mark":{"type":"line","clip":true},"encoding":{"x":{"field":"h","type":"quantitative","scale":{"domain":[-0.5,23.5],"nice":false,"zero":false},"axis":{"values":[0,4,8,12,16,20],"labelExpr":"(datum.value<10?'0':'')+datum.value+':00'","title":null}},"y":{"field":"v","type":"quantitative","scale":{"domain":[-0.8,0.8],"nice":false,"zero":false},"axis":{"values":[-0.8,-0.4,0,0.4,0.8],"format":"~g","title":"R","titlePadding":19,"labelPadding":4}},"color":{"field":"s","type":"nominal","scale":{"domain":["J","K","M"],"range":["#c8192e","#8fc43f","#3a78c2"]}}}},
{"data":{"name":"a0_9"},"width":312,"height":85,"mark":{"type":"line","clip":true},"encoding":{"x":{"field":"h","type":"quantitative","scale":{"domain":[-0.5,23.5],"nice":false,"zero":false},"axis":{"values":[0,4,8,12,16,20],"labelExpr":"(datum.value<10?'0':'')+datum.value+':00'","title":null}},"y":{"field":"v","type":"quantitative","scale":{"domain":[1,7],"nice":false,"zero":false},"axis":{"values":[1,3,5,7],"title":null,"labelPadding":22}},"color":{"field":"s","type":"nominal","scale":{"domain":["J","K","M"],"range":["#c8192e","#8fc43f","#3a78c2"]}}}},
{"data":{"name":"a1_9"},"width":302,"height":85,"title":{"text":"JULY 2009","dx":-54},"mark":{"type":"line","clip":true},"encoding":{"x":{"field":"h","type":"quantitative","scale":{"domain":[-0.5,23.5],"nice":false,"zero":false},"axis":{"values":[0,4,8,12,16,20],"labelExpr":"(datum.value<10?'0':'')+datum.value+':00'","title":null}},"y":{"field":"v","type":"quantitative","scale":{"domain":[-4,4],"nice":false,"zero":false},"axis":{"values":[-4,-2,0,2,4],"title":null,"labelPadding":4}},"color":{"field":"s","type":"nominal","scale":{"domain":["J","K","M"],"range":["#c8192e","#8fc43f","#3a78c2"]}}}},
{"data":{"name":"R_9"},"width":280,"height":85,"mark":{"type":"line","clip":true},"encoding":{"x":{"field":"h","type":"quantitative","scale":{"domain":[-0.5,23.5],"nice":false,"zero":false},"axis":{"values":[0,4,8,12,16,20],"labelExpr":"(datum.value<10?'0':'')+datum.value+':00'","title":null}},"y":{"field":"v","type":"quantitative","scale":{"domain":[-0.8,0.8],"nice":false,"zero":false},"axis":{"values":[-0.8,-0.4,0,0.4,0.8],"format":"~g","title":null,"labelPadding":4}},"color":{"field":"s","type":"nominal","scale":{"domain":["J","K","M"],"range":["#c8192e","#8fc43f","#3a78c2"]}}}},
{"data":{"name":"a0_10"},"width":312,"height":85,"mark":{"type":"line","clip":true},"encoding":{"x":{"field":"h","type":"quantitative","scale":{"domain":[-0.5,23.5],"nice":false,"zero":false},"axis":{"values":[0,4,8,12,16,20],"labelExpr":"(datum.value<10?'0':'')+datum.value+':00'","title":null}},"y":{"field":"v","type":"quantitative","scale":{"domain":[1,7],"nice":false,"zero":false},"axis":{"values":[1,3,5,7],"title":null,"labelPadding":22}},"color":{"field":"s","type":"nominal","scale":{"domain":["J","K","M"],"range":["#c8192e","#8fc43f","#3a78c2"]}}}},
{"data":{"name":"a1_10"},"width":302,"height":85,"title":{"text":"JULY 2010","dx":-63},"mark":{"type":"line","clip":true},"encoding":{"x":{"field":"h","type":"quantitative","scale":{"domain":[-0.5,23.5],"nice":false,"zero":false},"axis":{"values":[0,4,8,12,16,20],"labelExpr":"(datum.value<10?'0':'')+datum.value+':00'","title":null}},"y":{"field":"v","type":"quantitative","scale":{"domain":[-4,4],"nice":false,"zero":false},"axis":{"values":[-4,-2,0,2,4],"title":null,"labelPadding":4}},"color":{"field":"s","type":"nominal","scale":{"domain":["J","K","M"],"range":["#c8192e","#8fc43f","#3a78c2"]}}}},
{"data":{"name":"R_10"},"width":280,"height":85,"mark":{"type":"line","clip":true},"encoding":{"x":{"field":"h","type":"quantitative","scale":{"domain":[-0.5,23.5],"nice":false,"zero":false},"axis":{"values":[0,4,8,12,16,20],"labelExpr":"(datum.value<10?'0':'')+datum.value+':00'","title":null}},"y":{"field":"v","type":"quantitative","scale":{"domain":[-0.8,0.8],"nice":false,"zero":false},"axis":{"values":[-0.8,-0.4,0,0.4,0.8],"format":"~g","title":null,"labelPadding":4}},"color":{"field":"s","type":"nominal","scale":{"domain":["J","K","M"],"range":["#c8192e","#8fc43f","#3a78c2"]}}}}
],
"config":{
"view":{"stroke":null},
"line":{"strokeWidth":4.5,"strokeJoin":"round","strokeCap":"round","invalid":"break-paths-show-domains"},
"axis":{"grid":false,"domainColor":"#b5b5b5","tickColor":"#b5b5b5","labelFont":"Liberation Serif","labelColor":"#000","labelOverlap":false,"labelFlush":false,"labelBound":false,"titleFont":"Liberation Sans","titleFontWeight":"normal","titleFontSize":34,"titleColor":"#000"},
"axisX":{"labelFontSize":34,"labelAngle":270,"ticks":false,"labelPadding":18},
"axisY":{"labelFontSize":34,"tickSize":6},
"title":{"font":"Liberation Sans","fontSize":40,"fontWeight":"normal","color":"#000","anchor":"middle","offset":1},
"legend":{"symbolType":"stroke","symbolSize":5625,"symbolStrokeWidth":5,"labelFont":"Liberation Sans","labelFontSize":31,"labelFontWeight":"bold","labelColor":"#000","columnPadding":44,"labelOffset":3,"labelLimit":400}
}
}
